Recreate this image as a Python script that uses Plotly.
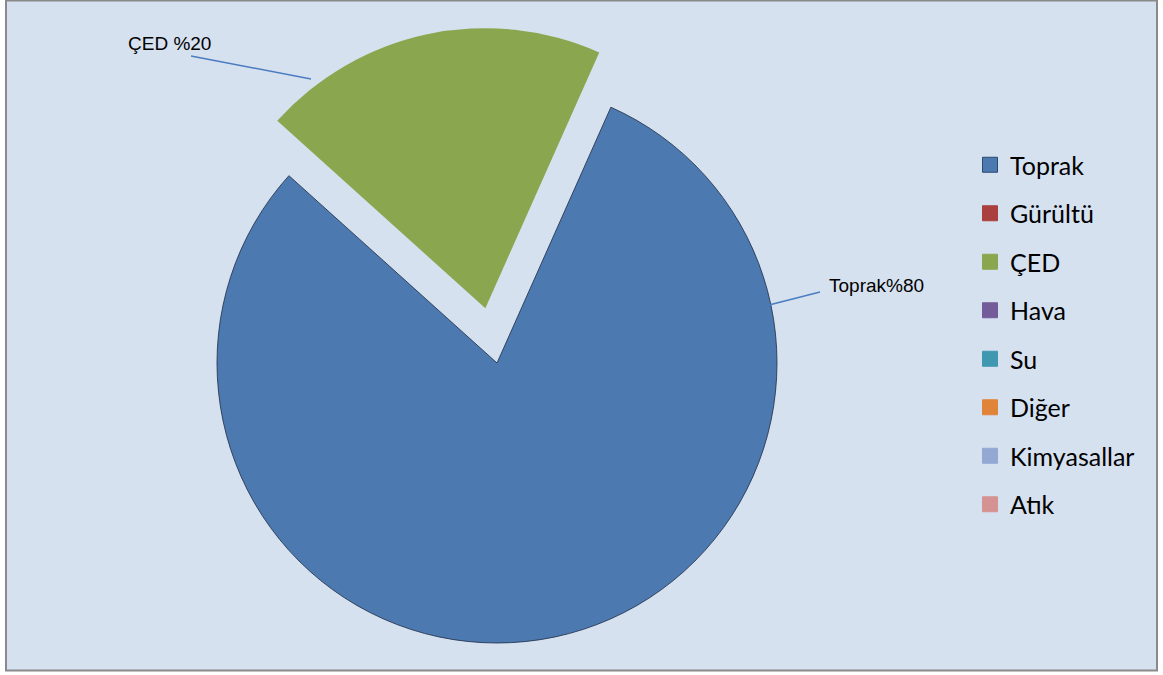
import plotly.graph_objects as go

# ---- data ----
categories = ["Toprak", "Gürültü", "ÇED", "Hava", "Su", "Diğer", "Kimyasallar", "Atık"]
shares = [80, 0, 20, 0, 0, 0, 0, 0]
pulls = [0, 0, 0.2, 0, 0, 0, 0, 0]
slice_colors = ["#4c79b0", "#a9403f", "#8aa64f", "#745c9b", "#3f98b0", "#e0843a", "#93a9d4", "#d49392"]
label_texts = {"ÇED": "ÇED %20", "Toprak": "Toprak%80"}

# ---- canvas geometry (pixels) ----
W, H = 1163, 699
MT, MB = 27, 0
PH = H - MT - MB


def px(x):
    return x / W


def py(y):
    return (H - MB - y) / PH


fig = go.Figure()

# pie centred at (497, 363) with radius 280
cx, half = 497, PH / 2
fig.add_trace(go.Pie(
    labels=categories,
    values=shares,
    pull=pulls,
    sort=False,
    direction="clockwise",
    rotation=24,
    marker=dict(colors=slice_colors,
                line=dict(color=["rgba(35,50,75,0.85)"] + ["rgba(0,0,0,0)"] * 7,
                          width=[1] + [0] * 7)),
    textinfo="none",
    hoverinfo="label+percent",
    showlegend=False,
    domain=dict(x=[(cx - half) / W, (cx + half) / W], y=[0, 1]),
))

# legend entries as square markers, one group each for spacing
for name, col in zip(categories, slice_colors):
    fig.add_trace(go.Scatter(
        x=[None], y=[None], mode="markers", name=name, legendgroup=name,
        marker=dict(symbol="square", size=15, color=col,
                    line=dict(color="#2c4a70" if name == "Toprak" else col, width=1)),
        hoverinfo="skip",
    ))

# chart frame
fig.add_shape(type="rect", xref="paper", yref="paper",
              x0=px(6), x1=px(1157), y0=py(670.5), y1=py(0.5),
              line=dict(color="#8a8a8a", width=2), fillcolor="#d6e1f0", layer="below")

# leader lines
leader = dict(color="#4a7cc0", width=1.5)
fig.add_shape(type="line", xref="paper", yref="paper",
              x0=px(191), y0=py(56), x1=px(311), y1=py(79), line=leader)
fig.add_shape(type="line", xref="paper", yref="paper",
              x0=px(769), y0=py(305), x1=px(820), y1=py(292), line=leader)

label_font = dict(family="Liberation Sans, Arial", size=19, color="#000000")
fig.add_annotation(x=px(126), y=py(43), xref="paper", yref="paper", xanchor="left", yanchor="middle",
                   text=label_texts["ÇED"], showarrow=False, font=label_font)
fig.add_annotation(x=px(827), y=py(285), xref="paper", yref="paper", xanchor="left", yanchor="middle",
                   text=label_texts["Toprak"], showarrow=False, font=label_font)

fig.update_layout(
    width=W, height=H,
    margin=dict(l=0, r=0, t=MT, b=MB),
    paper_bgcolor="#ffffff", plot_bgcolor="rgba(0,0,0,0)",
    xaxis=dict(visible=False), yaxis=dict(visible=False),
    legend=dict(x=px(970), y=py(142), xanchor="left", yanchor="top",
                font=dict(family="Lato", size=25, color="#000000"),
                bgcolor="rgba(0,0,0,0)", tracegroupgap=13, itemwidth=30),
    showlegend=True,
)

fig.write_html("out.html", config={"displayModeBar": False},
               post_script="document.documentElement.style.overflow='hidden';document.body.style.overflow='hidden';")
